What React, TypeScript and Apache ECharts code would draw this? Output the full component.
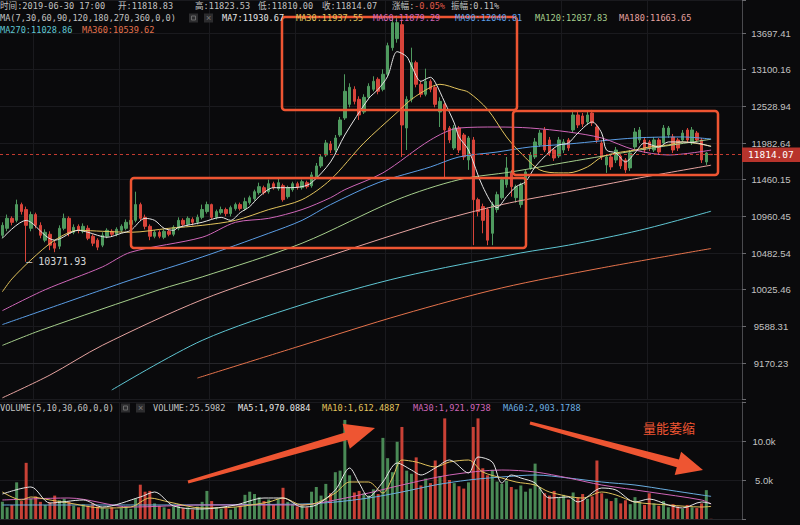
import React, { useEffect, useRef } from 'react';
import * as echarts from 'echarts';

// ---------- tick labels ----------
const priceTicks = [9170.23, 9588.31, 10025.46, 10482.54, 10960.45, 11460.15, 11982.64, 12528.94, 13100.16, 13697.41];
const volumeTicks = [5000, 10000];
const volumeTickLabels = ['5.0k', '10.0k'];

// ---------- candles: [open, close, low, high] ----------
const ohlc: number[][] = [
  [10711, 10841, 10672, 10881], [10802, 10934, 10763, 10984], [10934, 10881, 10841, 10960], [10907, 11118, 10881, 11185],
  [11118, 11024, 10984, 11145], [11051, 10841, 10371.93, 11091], [10802, 10984, 10763, 11024], [10984, 10841, 10802, 11010],
  [10841, 10711, 10672, 10881], [10647, 10750, 10621, 10789], [10724, 10583, 10519, 10763], [10608, 10544, 10493, 10647],
  [10570, 10802, 10532, 10841], [10802, 10934, 10776, 10997], [10934, 10737, 10698, 10960], [10750, 10815, 10724, 10854],
  [10828, 10776, 10737, 10854], [10763, 10828, 10737, 10867], [10802, 10672, 10647, 10841], [10698, 10608, 10570, 10724],
  [10647, 10557, 10519, 10672], [10583, 10711, 10557, 10750], [10698, 10776, 10672, 10802], [10763, 10724, 10698, 10789],
  [10724, 10789, 10698, 10815], [10776, 10828, 10750, 10854], [10802, 10881, 10776, 10920], [10854, 10907, 10828, 10934],
  [10907, 11118, 10881, 11294], [11118, 10934, 10907, 11145], [10947, 10828, 10789, 10984], [10828, 10698, 10647, 10854],
  [10698, 10750, 10672, 10776], [10750, 10698, 10672, 10776], [10685, 10763, 10660, 10789], [10763, 10724, 10698, 10789],
  [10724, 10815, 10698, 10841], [10802, 10907, 10776, 10947], [10907, 10854, 10828, 10934], [10854, 10934, 10828, 10960],
  [10920, 10881, 10841, 10947], [10881, 10947, 10854, 10984], [10947, 11051, 10920, 11118], [11024, 11118, 10997, 11158],
  [11118, 10947, 10920, 11131], [10947, 11024, 10920, 11051], [11010, 11051, 10984, 11091], [11051, 10997, 10960, 11077],
  [10997, 11077, 10960, 11104], [11064, 11118, 11037, 11145], [11118, 11064, 11037, 11145], [11064, 11158, 11037, 11212],
  [11145, 11212, 11118, 11240], [11199, 11294, 11172, 11322], [11281, 11363, 11253, 11418], [11349, 11281, 11253, 11377],
  [11294, 11404, 11267, 11460], [11404, 11349, 11322, 11432], [11336, 11418, 11308, 11485], [11377, 11185, 11158, 11404],
  [11226, 11349, 11199, 11377], [11322, 11404, 11294, 11432], [11404, 11349, 11322, 11432], [11349, 11432, 11322, 11460],
  [11418, 11363, 11336, 11446], [11377, 11527, 11349, 11569], [11499, 11653, 11471, 11695], [11653, 11781, 11625, 11823],
  [11809, 11983, 11781, 12027], [11968, 11881, 11838, 12012], [11881, 12056, 11852, 12100], [12100, 12323, 12071, 12368],
  [12353, 12760, 12323, 13027], [12559, 12822, 12514, 12885], [12791, 12605, 12559, 12838], [12636, 12398, 12323, 12683],
  [12443, 12667, 12413, 12714], [12667, 12838, 12636, 12885], [12791, 12916, 12760, 12995], [12948, 12760, 12714, 12979],
  [12791, 13027, 12760, 13106], [13027, 13488, 12979, 13537], [13455, 13871, 13406, 13955], [13603, 13871, 13537, 13989],
  [13837, 12248, 11781, 13904], [12203, 12636, 11881, 12683], [12636, 13212, 12590, 13455], [13212, 12869, 12822, 13244],
  [12869, 12714, 12667, 12916], [12714, 12916, 12683, 13116], [12916, 12791, 12745, 12948], [12822, 12559, 12514, 12854],
  [12443, 12605, 12218, 12667], [12559, 12174, 11485, 12590], [12203, 12027, 11983, 12233], [11910, 12203, 11881, 12248],
  [12203, 11881, 11838, 12233], [12100, 11781, 11738, 12129], [11738, 12056, 11597, 12085], [12027, 11185, 10583, 12071],
  [11185, 11024, 10960, 11212], [11091, 10907, 10737, 11131], [11051, 10647, 10583, 11077], [10737, 11118, 10583, 11158],
  [11051, 11253, 11010, 11294], [11212, 11460, 11185, 11499], [11391, 11625, 11349, 11781], [11555, 11363, 11226, 11597],
  [11212, 11363, 11145, 11391], [11118, 11391, 11077, 11418], [11391, 11569, 11363, 11597], [11625, 11809, 11597, 11852],
  [11781, 11998, 11752, 12056], [11954, 12129, 11925, 12174], [12174, 11881, 11852, 12218], [12027, 11838, 11795, 12071],
  [11881, 11766, 11724, 11910], [11795, 12027, 11766, 12071], [11881, 11998, 11838, 12041], [12027, 11910, 11867, 12056],
  [12174, 12398, 12129, 12474], [12398, 12248, 12203, 12443], [12383, 12263, 12218, 12428], [12293, 12398, 12248, 12443],
  [12428, 12278, 12233, 12474], [12218, 12027, 11983, 12263], [11983, 11781, 11738, 12027], [11667, 11781, 11555, 11809],
  [11781, 11639, 11597, 11809], [11738, 11881, 11695, 11925], [11795, 11653, 11611, 11823], [11738, 11597, 11555, 11766],
  [11625, 11838, 11583, 11881], [11925, 12144, 11881, 12203], [12027, 12174, 11983, 12218], [12027, 11881, 11838, 12071],
  [11998, 11910, 11867, 12027], [11881, 12027, 11852, 12071], [12027, 11852, 11809, 12056], [11983, 12203, 11954, 12248],
  [12100, 12203, 12056, 12233], [12071, 11881, 11838, 12115], [12027, 11910, 11867, 12056], [12027, 12129, 11998, 12174],
  [12174, 12027, 11983, 12203], [11983, 12174, 11954, 12218], [12129, 12027, 11998, 12159], [12027, 11738, 11695, 12056],
  [11710, 11838, 11667, 11852], [11818.83, 11814.07, 11810.0, 11823.53],
];

const volumes: number[] = [
  2200, 1500, 1800, 4700, 2300, 7200, 2600, 2900, 2200, 1800, 2100, 3000, 2400, 2600, 2200, 1700, 1500, 1900, 1700, 2000,
  1600, 1400, 1300, 1500, 1200, 1400, 1600, 1300, 2600, 4400, 3500, 3600, 2000, 1700, 1500, 1300, 1600, 1900, 1400, 1500,
  1200, 1600, 2200, 3600, 2300, 1500, 1300, 1400, 1200, 1500, 1700, 3100, 3500, 3200, 2800, 2300, 2500, 1800, 2600, 4000,
  2200, 1900, 1600, 1800, 1500, 3500, 4100, 3000, 4500, 3300, 6000, 6200, 12700, 5600, 3400, 3600, 3300, 3000, 3800, 3200,
  10400, 7800, 6000, 9900, 11800, 6200, 5800, 7900, 4300, 5200, 4600, 7500, 5500, 12900, 5000, 4600, 4200, 3900, 4700, 11800,
  12900, 6500, 5600, 6300, 4800, 4500, 4900, 4100, 3800, 4300, 3500, 3900, 7100, 4000, 3300, 3000, 3600, 2700, 3100, 2500,
  3400, 2800, 3200, 2600, 2900, 7500, 3300, 2600, 2300, 2700, 2000, 2400, 1900, 2800, 2200, 1800, 3300, 2000, 1700, 2300,
  1500, 1900, 1600, 1300, 1800, 1500, 1400, 2000, 3700, 25.5982,
];

// ---------- moving averages: [candle index, value] ----------
const ma7: number[][] = [[0,10672],[5,10907],[6,10881],[11,10647],[16,10776],[18,10750],[22,10685],[25,10737],[27,10776],[30,10934],[32,10907],[34,10802],[36,10776],[37,10815],[42,10881],[46,10947],[48,10907],[50,11010],[52,11091],[54,11226],[57,11349],[60,11349],[63,11363],[65,11418],[69,11710],[72,12100],[77,12647],[79,12791],[81,12995],[83,13390],[85,13310],[86,13164],[88,12916],[90,12979],[91,12900],[93,12590],[95,12278],[96,12071],[98,11881],[101,11363],[104,11077],[106,11226],[108,11363],[110,11432],[112,11639],[115,11852],[117,11954],[119,11983],[121,12129],[124,12293],[126,12129],[127,11881],[129,11838],[131,11710],[133,11838],[135,11983],[138,11925],[140,11998],[142,11998],[146,11983],[149,11930.67]];
const ma30: number[][] = [[0,10000],[2,10157],[6,10394],[11,10647],[16,10776],[21,10763],[27,10750],[35,10802],[42,10841],[49,10907],[56,11051],[63,11185],[69,11460],[76,11983],[83,12438],[86,12636],[90,12822],[92,12869],[96,12791],[98,12745],[102,12483],[106,12071],[109,11838],[113,11597],[117,11555],[119,11555],[123,11639],[126,11781],[129,11838],[133,11881],[136,11925],[140,11954],[143,11998],[149,11937.55]];
const ma60: number[][] = [[0,9773],[9,10025],[21,10306],[27,10493],[42,10685],[49,10881],[56,10934],[63,11051],[69,11212],[72,11322],[80,11555],[90,12027],[96,12203],[104,12218],[111,12203],[119,12144],[126,12056],[133,11881],[140,11809],[149,11879.29]];
const ma90: number[][] = [[0,9609],[21,10025],[27,10145],[42,10432],[56,10737],[63,10907],[69,11118],[79,11418],[90,11639],[96,11781],[104,11852],[111,11925],[119,11968],[133,12056],[143,12071],[149,12040.81]];
const ma120: number[][] = [[0,9369],[8,9541],[33,10025],[42,10182],[63,10608],[83,11185],[96,11460],[107,11569],[119,11710],[134,11881],[149,12037.83]];
const ma180: number[][] = [[0,8790],[10,9037],[21,9369],[42,9904],[63,10331],[90,10867],[105,11118],[119,11294],[134,11485],[149,11663.65]];
const ma270: number[][] = [[23,8874],[42,9426],[63,9844],[84,10182],[109,10483],[119,10583],[134,10776],[149,11028.86]];
const ma360: number[][] = [[41,9004],[63,9369],[84,9726],[105,10047],[126,10294],[149,10539.62]];

const vma5: number[][] = [[0,3205],[6,4103],[10,2051],[17,2436],[21,1538],[29,2821],[32,3462],[36,1667],[42,1282],[49,1795],[55,2692],[59,2692],[63,1538],[66,1795],[70,3718],[73,6538],[75,4615],[77,2821],[80,4744],[83,7179],[86,6282],[88,5641],[91,6538],[94,7564],[98,5897],[100,7949],[103,7308],[105,4615],[107,5641],[109,5256],[112,4615],[115,2692],[119,2821],[121,2179],[126,3974],[129,3718],[133,2179],[136,2564],[140,1795],[143,1410],[147,2179],[149,1970.0884]];
const vma10: number[][] = [[0,3462],[4,2436],[6,2821],[10,2436],[14,2051],[21,1410],[27,1538],[31,2692],[35,2179],[42,1410],[49,1538],[56,2179],[59,2692],[63,1795],[66,2051],[70,3333],[73,4744],[77,4744],[80,3333],[82,5256],[84,7564],[87,7308],[91,6667],[94,7308],[98,7564],[101,6026],[105,5256],[108,4744],[112,4359],[115,3462],[122,2692],[126,3462],[129,3077],[133,2179],[140,1795],[147,1538],[149,1612.4887]];
const vma30: number[][] = [[0,2436],[14,2692],[27,1538],[42,1795],[63,1795],[70,2436],[77,3333],[84,4359],[94,5641],[105,6282],[112,6026],[119,5256],[126,4359],[136,3462],[147,2436],[149,1921.9738]];
const vma60: number[][] = [[0,1795],[31,1795],[63,1923],[70,2179],[77,2692],[84,3462],[91,4359],[98,5000],[105,5385],[112,5641],[119,5256],[126,4744],[133,4359],[140,3718],[147,3077],[149,2903.1788]];

const SLOTS = 156; // 150 hourly candles + empty space on the right
const categories = Array.from({ length: SLOTS }, (_, i) => `h${i}`);
const gridColumns = [7, 25, 44, 62, 81, 99, 118, 136];

const lastClose = 11814.07;
const lastVolume = 25.5982;
const lowPoint = { index: 5, value: 10371.93 };

const D = Math.log(13697.41 / 9170.23) / 9;
const U = (p: number) => Math.log(p / 9170.23) / D;

const UP = '#4f9a5f';
const DOWN = '#d8443a';
const VUP = '#4a8a56';
const VDOWN = '#c94136';
const ANN = '#ee5532';
const MONO = "'DejaVu Sans Mono', 'Noto Sans CJK SC', monospace";
const SANS = "'Liberation Sans', Arial, sans-serif";

const C = {
  ma7: '#e6e6e6', ma30: '#e2c35c', ma60: '#cf66b8', ma90: '#5b9ee6', ma120: '#a6cf8c',
  ma180: '#e6a3a0', ma270: '#5fc6d3', ma360: '#e5734c', gray: '#c2c2c2', vma60: '#6aaee0',
};

function txt(x: number, y: number, text: string, fill: string, size = 8.6, family = MONO) {
  return { type: 'text', x, y, z: 200, silent: true, style: { text, fill, fontSize: size, fontFamily: family, verticalAlign: 'middle', align: 'left' } };
}
function box(x: number, y: number, w: number, h: number) {
  return { type: 'rect', z: 150, silent: true, shape: { x, y, width: w, height: h, r: 3 }, style: { fill: 'none', stroke: ANN, lineWidth: 2.5 } };
}
function icons(x: number, y: number) {
  return [
    { type: 'rect', z: 200, silent: true, shape: { x, y, width: 9, height: 9 }, style: { fill: '#2c2c2e' } },
    { type: 'rect', z: 201, silent: true, shape: { x: x + 2.5, y: y + 2.5, width: 4, height: 4 }, style: { fill: 'none', stroke: '#6a6a6a', lineWidth: 1 } },
    { type: 'rect', z: 200, silent: true, shape: { x: x + 15, y, width: 9, height: 9 }, style: { fill: '#2c2c2e' } },
    { type: 'text', z: 201, silent: true, x: x + 19.5, y: y + 4.5, style: { text: '×', fill: '#7a7a7a', fontSize: 9, fontFamily: SANS, align: 'center', verticalAlign: 'middle' } },
  ];
}

export default function App() {
  const ref = useRef<HTMLDivElement>(null);
  useEffect(() => {
    document.body.style.margin = '0';
    document.body.style.background = '#0a0a0c';
    const chart = echarts.init(ref.current!, undefined, { renderer: 'svg' });

    const maLine = (pts: number[][], color: string, conv: boolean, axis: number) => ({
      type: 'line', xAxisIndex: axis, yAxisIndex: axis, silent: true, z: 3,
      data: pts.map(([i, v]) => [i, conv ? U(v) : v]),
      showSymbol: false, symbol: 'none', smooth: 0.3,
      lineStyle: { color, width: 1 },
    });

    const option: any = {
      animation: false,
      backgroundColor: '#0a0a0c',
      grid: [
        { left: 0, top: 0, width: 742, height: 399.67 },
        { left: 0, top: 402, width: 742, height: 117 },
      ],
      xAxis: [0, 1].map((g) => ({
        type: 'category', gridIndex: g, data: categories, boundaryGap: true,
        axisLine: { show: true, lineStyle: { color: '#26262a' } },
        axisTick: { show: false }, axisLabel: { show: false },
        splitLine: { show: true, interval: (idx: number) => gridColumns.includes(idx), lineStyle: { color: '#1a1a1e' } },
      })),
      yAxis: [
        {
          type: 'value', gridIndex: 0, position: 'right', min: -1, max: 9.9, interval: 1,
          axisLine: { show: true, lineStyle: { color: '#4a4a4e' } },
          axisTick: { show: true, length: 4, lineStyle: { color: '#6a6a6e' } },
          axisLabel: {
            color: C.gray, fontSize: 9.5, fontFamily: SANS, margin: 29, align: 'center',
            formatter: (v: number) => {
              const k = Math.round(v);
              return Math.abs(v - k) < 1e-6 && k >= 0 && k < priceTicks.length ? priceTicks[k].toFixed(2) : '';
            },
          },
          splitLine: { show: true, lineStyle: { color: '#1a1a1e' } },
        },
        {
          type: 'value', gridIndex: 1, position: 'right', min: 0, max: 15000, interval: 5000,
          axisLine: { show: true, lineStyle: { color: '#4a4a4e' } },
          axisTick: { show: true, length: 4, lineStyle: { color: '#6a6a6e' } },
          axisLabel: {
            color: C.gray, fontSize: 9.5, fontFamily: SANS, margin: 22, align: 'center',
            formatter: (v: number) => { const k = volumeTicks.indexOf(v); return k >= 0 ? volumeTickLabels[k] : ''; },
          },
          splitLine: { show: true, lineStyle: { color: '#1a1a1e' } },
        },
      ],
      series: [
        {
          type: 'candlestick', xAxisIndex: 0, yAxisIndex: 0, z: 2, barWidth: 3,
          data: ohlc.map(([o, c, l, h]) => [U(o), U(c), U(l), U(h)]),
          itemStyle: { color: UP, color0: DOWN, borderColor: UP, borderColor0: DOWN, borderWidth: 1 },
          markLine: {
            silent: true, symbol: ['none', 'none'], animation: false,
            data: [{ yAxis: U(lastClose) }],
            lineStyle: { color: '#c43b30', type: [3, 3], width: 1 },
            label: {
              position: 'end', distance: 0, formatter: lastClose.toFixed(2), color: '#ffffff',
              backgroundColor: '#b8342c', padding: [3, 8, 2, 6], fontSize: 9.5, fontFamily: MONO,
            },
          },
          markPoint: {
            silent: true, animation: false,
            data: [{
              coord: [lowPoint.index, U(lowPoint.value)], symbol: 'circle', symbolSize: 0,
              label: { show: true, position: 'right', distance: 0, formatter: `– ${lowPoint.value.toFixed(2)}`, color: '#d6d6d6', fontSize: 10, fontFamily: MONO },
            }],
          },
        },
        maLine(ma360, C.ma360, true, 0),
        maLine(ma270, C.ma270, true, 0),
        maLine(ma180, C.ma180, true, 0),
        maLine(ma120, C.ma120, true, 0),
        maLine(ma90, C.ma90, true, 0),
        maLine(ma60, C.ma60, true, 0),
        maLine(ma30, C.ma30, true, 0),
        maLine(ma7, C.ma7, true, 0),
        {
          type: 'bar', xAxisIndex: 1, yAxisIndex: 1, barWidth: 3, z: 2,
          data: volumes.map((v, i) => ({ value: v, itemStyle: { color: ohlc[i][1] >= ohlc[i][0] ? VUP : VDOWN } })),
          markLine: {
            silent: true, symbol: ['none', 'none'], animation: false,
            data: [{ yAxis: lastVolume }],
            lineStyle: { opacity: 0 },
            label: {
              position: 'end', distance: 0, formatter: String(Math.round(lastVolume)), color: '#ffffff',
              backgroundColor: '#d6a13a', padding: [2, 18, 1, 18], fontSize: 9.5, fontFamily: SANS,
            },
          },
        },
        maLine(vma60, C.vma60, false, 1),
        maLine(vma30, C.ma60, false, 1),
        maLine(vma10, C.ma30, false, 1),
        maLine(vma5, C.ma7, false, 1),
      ],
      graphic: [
        // header row 1
        txt(0, 6, '时间:2019-06-30 17:00', C.gray),
        txt(118, 6, '开:11818.83', C.gray),
        txt(195, 6, '高:11823.53', C.gray),
        txt(258, 6, '低:11810.00', C.gray),
        txt(322, 6, '收:11814.07', C.gray),
        txt(392, 6, '涨幅:', C.gray),
        txt(414, 6, '-0.05%', '#e05a4a'),
        txt(451, 6, '振幅:0.11%', C.gray),
        // header row 2
        txt(0, 18, 'MA(7,30,60,90,120,180,270,360,0,0)', C.gray),
        ...icons(189, 13.5),
        txt(222, 18, 'MA7:11930.67', C.ma7),
        txt(296, 18, 'MA30:11937.55', C.ma30),
        txt(373, 18, 'MA60:11879.29', C.ma60),
        txt(455, 18, 'MA90:12040.81', C.ma90),
        txt(535, 18, 'MA120:12037.83', C.ma120),
        txt(619, 18, 'MA180:11663.65', C.ma180),
        // header row 3
        txt(0, 30, 'MA270:11028.86', C.ma270),
        txt(82, 30, 'MA360:10539.62', C.ma360),
        // volume header
        txt(0, 408, 'VOLUME(5,10,30,60,0,0)', C.gray),
        ...icons(121, 403.5),
        txt(153, 408, 'VOLUME:25.5982', C.gray),
        txt(238, 408, 'MA5:1,970.0884', C.ma7),
        txt(322, 408, 'MA10:1,612.4887', C.ma30),
        txt(413, 408, 'MA30:1,921.9738', C.ma60),
        txt(503, 408, 'MA60:2,903.1788', C.vma60),
        // annotation boxes
        box(282, 17, 235, 93),
        box(513, 111, 205, 64),
        box(131, 178, 395, 70),
        // arrows
        {
          type: 'polygon', z: 150, silent: true,
          shape: { points: [[187.6, 480.6], [345.1, 432.5], [342.6, 423.8], [375, 428], [349.8, 448.8], [347.3, 440.1], [188.4, 483.4]] },
          style: { fill: ANN },
        },
        {
          type: 'polygon', z: 150, silent: true,
          shape: { points: [[530.4, 421.6], [679.0, 459.5], [681.1, 451.8], [703, 470], [674.7, 475.0], [676.8, 467.3], [529.6, 424.4]] },
          style: { fill: ANN },
        },
        {
          type: 'text', x: 643, y: 427, z: 200, silent: true,
          style: { text: '量能萎缩', fill: ANN, fontSize: 13, fontFamily: "'Noto Sans CJK SC', sans-serif", verticalAlign: 'middle', align: 'left' },
        },
      ],
    };
    chart.setOption(option);
    return () => chart.dispose();
  }, []);
  return <div ref={ref} style={{ position: 'fixed', left: 0, top: 0, width: 800, height: 525, background: '#0a0a0c' }} />;
}
